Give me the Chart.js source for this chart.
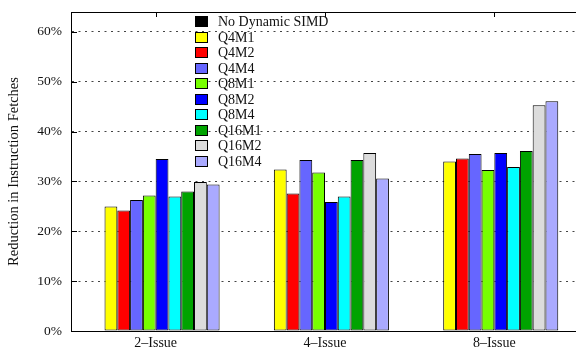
<!DOCTYPE html>
<html>
<head>
<meta charset="utf-8">
<script src="https://cdn.jsdelivr.net/npm/chart.js@4.4.0/dist/chart.umd.min.js"></script>
<style>
  html, body { margin: 0; padding: 0; background: #fff; overflow: hidden; }
  #wrap { width: 579px; height: 352px; }
</style>
</head>
<body>
<div id="wrap"><canvas id="chart"></canvas></div>
<script>
// categories and series (percent reduction)
const categories = ['2\u2013Issue', '4\u2013Issue', '8\u2013Issue'];
const seriesNames = ['No Dynamic SIMD', 'Q4M1', 'Q4M2', 'Q4M4', 'Q8M1', 'Q8M2', 'Q8M4', 'Q16M1', 'Q16M2', 'Q16M4'];
const seriesColors = ['#000000', '#ffff00', '#ff0000', '#6666ff', '#77ff00', '#0000ff', '#00ffff', '#00a300', '#dcdcdc', '#aaaaff'];

const noDynamic = [0, 0, 0];
const q4m1 = [25.0, 32.4, 34.0];
const q4m2 = [24.2, 27.6, 34.6];
const q4m4 = [26.3, 34.3, 35.5];
const q8m1 = [27.2, 31.8, 32.3];
const q8m2 = [34.5, 25.9, 35.7];
const q8m4 = [27.0, 27.0, 32.9];
const q16m1 = [28.0, 34.3, 36.1];
const q16m2 = [29.9, 35.7, 45.3];
const q16m4 = [29.4, 30.6, 46.1];
const yTicks = [0, 10, 20, 30, 40, 50, 60];

const seriesValues = [noDynamic, q4m1, q4m2, q4m4, q8m1, q8m2, q8m4, q16m1, q16m2, q16m4];

const serif = '"Liberation Serif", "DejaVu Serif", serif';

// top border, mirrored tics, inward y tics
const framePlugin = {
    id: 'frame',
    afterDatasetsDraw(chart) {
        const { ctx, chartArea } = chart;
        const xs = chart.scales.x, ys = chart.scales.y;
        ctx.save();
        ctx.strokeStyle = '#000';
        ctx.lineWidth = 1;
        ctx.beginPath();
        ctx.moveTo(chartArea.left, chartArea.top + 0.5);
        ctx.lineTo(chartArea.right, chartArea.top + 0.5);
        xs.ticks.forEach((t, i) => {
            const px = Math.round(xs.getPixelForTick(i)) + 0.5;
            ctx.moveTo(px, chartArea.top);
            ctx.lineTo(px, chartArea.top + 5);
        });
        yTicks.forEach(v => {
            const py = Math.round(ys.getPixelForValue(v)) + 0.5;
            ctx.moveTo(chartArea.left, py);
            ctx.lineTo(chartArea.left + 6, py);
        });
        ctx.stroke();
        ctx.restore();
    }
};

// gnuplot style key inside the plot
const keyPlugin = {
    id: 'key',
    afterDraw(chart) {
        const { ctx } = chart;
        const boxX = 195, textX = 218, firstY = 21.5, step = 15.5;
        ctx.save();
        ctx.font = '14px ' + serif;
        ctx.textBaseline = 'middle';
        chart.data.datasets.forEach((ds, i) => {
            const cy = firstY + i * step;
            ctx.fillStyle = ds.backgroundColor;
            ctx.fillRect(boxX, Math.round(cy - 5.5), 13, 11);
            ctx.strokeStyle = '#000';
            ctx.lineWidth = 1;
            ctx.strokeRect(boxX + 0.5, Math.round(cy - 5.5) + 0.5, 12, 10);
            ctx.fillStyle = '#111';
            ctx.fillText(ds.label, textX, cy + 1);
        });
        ctx.restore();
    }
};

const datasets = seriesNames.map((name, i) => ({
    label: name,
    data: seriesValues[i],
    backgroundColor: seriesColors[i],
    borderColor: '#000',
    borderWidth: 1,
    borderSkipped: false,
    categoryPercentage: 0.755,
    barPercentage: 1.0
}));

new Chart(document.getElementById('chart'), {
    type: 'bar',
    data: { labels: categories, datasets: datasets },
    options: {
        responsive: true,
        maintainAspectRatio: false,
        animation: false,
        layout: { padding: { top: 12, left: 0, right: 0, bottom: 0 } },
        plugins: {
            legend: { display: false },
            tooltip: { enabled: false }
        },
        scales: {
            x: {
                grid: { drawOnChartArea: false, drawTicks: false },
                border: { display: true, color: '#000', width: 1 },
                ticks: {
                    color: '#111',
                    padding: 4,
                    font: { family: serif, size: 14 }
                },
                afterFit: (scale) => { scale.height = 21; scale.paddingLeft = 0; scale.paddingRight = 0; }
            },
            y: {
                min: 0,
                max: 64,
                afterBuildTicks: (scale) => { scale.ticks = yTicks.map(v => ({ value: v })); },
                grid: {
                    color: (c) => c.tick && c.tick.value === 0 ? 'rgba(0,0,0,0)' : '#444',
                    drawTicks: false
                },
                border: { display: true, color: '#000', width: 1, dash: [2, 4.5] },
                ticks: {
                    color: '#111',
                    padding: 9,
                    font: { family: serif, size: 13.5 },
                    callback: (v) => v + '%'
                },
                title: {
                    display: true,
                    text: 'Reduction in Instruction Fetches',
                    color: '#111',
                    font: { family: serif, size: 14.5 },
                    padding: { top: 5, bottom: 0 }
                },
                afterFit: (scale) => { scale.width = 71; scale.paddingTop = 0; scale.paddingBottom = 0; }
            }
        }
    },
    plugins: [framePlugin, keyPlugin]
});
</script>
</body>
</html>
